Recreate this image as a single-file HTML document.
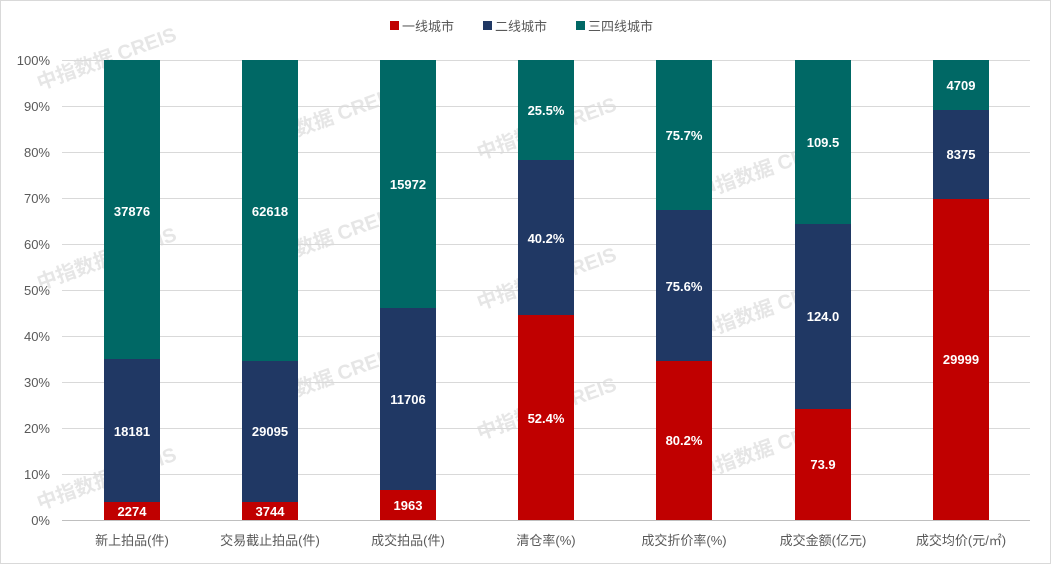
<!DOCTYPE html>
<html><head><meta charset="utf-8"><style>
html,body{margin:0;padding:0;background:#fff}
svg{display:block}
text{font-family:"Liberation Sans","Noto Sans CJK SC",sans-serif}
.v{fill:#fff;font-weight:bold;font-size:13px;text-anchor:middle}
.ax{fill:#595959;font-size:13px}
.wm{fill:#e6e6e6;font-size:20px;font-weight:bold}
</style></head><body>
<svg width="1051" height="564" viewBox="0 0 1051 564">
<rect x="0.5" y="0.5" width="1050" height="563" fill="#fff" stroke="#d9d9d9"/>
<g class="wm">
<text transform="translate(40,90) rotate(-20)">中指数据 CREIS</text>
<text transform="translate(260,150) rotate(-20)">中指数据 CREIS</text>
<text transform="translate(480,160) rotate(-20)">中指数据 CREIS</text>
<text transform="translate(700,200) rotate(-20)">中指数据 CREIS</text>
<text transform="translate(40,290) rotate(-20)">中指数据 CREIS</text>
<text transform="translate(260,270) rotate(-20)">中指数据 CREIS</text>
<text transform="translate(480,310) rotate(-20)">中指数据 CREIS</text>
<text transform="translate(700,340) rotate(-20)">中指数据 CREIS</text>
<text transform="translate(40,510) rotate(-20)">中指数据 CREIS</text>
<text transform="translate(260,410) rotate(-20)">中指数据 CREIS</text>
<text transform="translate(480,440) rotate(-20)">中指数据 CREIS</text>
<text transform="translate(700,480) rotate(-20)">中指数据 CREIS</text>
</g>
<g stroke="#d9d9d9" stroke-width="1">
<line x1="62" x2="1030" y1="60.5" y2="60.5"/><line x1="62" x2="1030" y1="106.5" y2="106.5"/>
<line x1="62" x2="1030" y1="152.5" y2="152.5"/><line x1="62" x2="1030" y1="198.5" y2="198.5"/>
<line x1="62" x2="1030" y1="244.5" y2="244.5"/><line x1="62" x2="1030" y1="290.5" y2="290.5"/>
<line x1="62" x2="1030" y1="336.5" y2="336.5"/><line x1="62" x2="1030" y1="382.5" y2="382.5"/>
<line x1="62" x2="1030" y1="428.5" y2="428.5"/><line x1="62" x2="1030" y1="474.5" y2="474.5"/>
</g>
<g class="ax" text-anchor="end">
<text x="50" y="65">100%</text><text x="50" y="111">90%</text><text x="50" y="157">80%</text>
<text x="50" y="203">70%</text><text x="50" y="249">60%</text><text x="50" y="295">50%</text>
<text x="50" y="341">40%</text><text x="50" y="387">30%</text><text x="50" y="433">20%</text>
<text x="50" y="479">10%</text><text x="50" y="525">0%</text>
</g>
<g>
<rect x="104" y="60" width="56" height="460" fill="#006865"/><rect x="104" y="359" width="56" height="161" fill="#203864"/><rect x="104" y="502" width="56" height="18" fill="#c00000"/>
<rect x="242" y="60" width="56" height="460" fill="#006865"/><rect x="242" y="361" width="56" height="159" fill="#203864"/><rect x="242" y="502" width="56" height="18" fill="#c00000"/>
<rect x="380" y="60" width="56" height="460" fill="#006865"/><rect x="380" y="308" width="56" height="212" fill="#203864"/><rect x="380" y="490" width="56" height="30" fill="#c00000"/>
<rect x="518" y="60" width="56" height="460" fill="#006865"/><rect x="518" y="160" width="56" height="360" fill="#203864"/><rect x="518" y="315" width="56" height="205" fill="#c00000"/>
<rect x="656" y="60" width="56" height="460" fill="#006865"/><rect x="656" y="210" width="56" height="310" fill="#203864"/><rect x="656" y="361" width="56" height="159" fill="#c00000"/>
<rect x="795" y="60" width="56" height="460" fill="#006865"/><rect x="795" y="224" width="56" height="296" fill="#203864"/><rect x="795" y="409" width="56" height="111" fill="#c00000"/>
<rect x="933" y="60" width="56" height="460" fill="#006865"/><rect x="933" y="110" width="56" height="410" fill="#203864"/><rect x="933" y="199" width="56" height="321" fill="#c00000"/>
</g>
<line x1="62" x2="1030" y1="520.5" y2="520.5" stroke="#bfbfbf"/>
<g class="v">
<text x="132" y="216">37876</text><text x="132" y="436">18181</text><text x="132" y="516">2274</text>
<text x="270" y="216">62618</text><text x="270" y="436">29095</text><text x="270" y="516">3744</text>
<text x="408" y="189">15972</text><text x="408" y="404">11706</text><text x="408" y="510">1963</text>
<text x="546" y="115">25.5%</text><text x="546" y="243">40.2%</text><text x="546" y="423">52.4%</text>
<text x="684" y="140">75.7%</text><text x="684" y="291">75.6%</text><text x="684" y="445">80.2%</text>
<text x="823" y="147">109.5</text><text x="823" y="321">124.0</text><text x="823" y="469">73.9</text>
<text x="961" y="90">4709</text><text x="961" y="159">8375</text><text x="961" y="364">29999</text>
</g>
<g class="ax" text-anchor="middle" font-size="14">
<text x="132" y="545">新上拍品(件)</text><text x="270" y="545">交易截止拍品(件)</text><text x="408" y="545">成交拍品(件)</text>
<text x="546" y="545">清仓率(%)</text><text x="684" y="545">成交折价率(%)</text><text x="823" y="545">成交金额(亿元)</text>
<text x="961" y="545">成交均价(元/㎡)</text>
</g>
<g class="ax" font-size="14">
<rect x="390" y="21" width="9" height="9" fill="#c00000"/><text x="402" y="31">一线城市</text>
<rect x="483" y="21" width="9" height="9" fill="#203864"/><text x="495" y="31">二线城市</text>
<rect x="576" y="21" width="9" height="9" fill="#006865"/><text x="588" y="31">三四线城市</text>
</g>
</svg>
</body></html>
